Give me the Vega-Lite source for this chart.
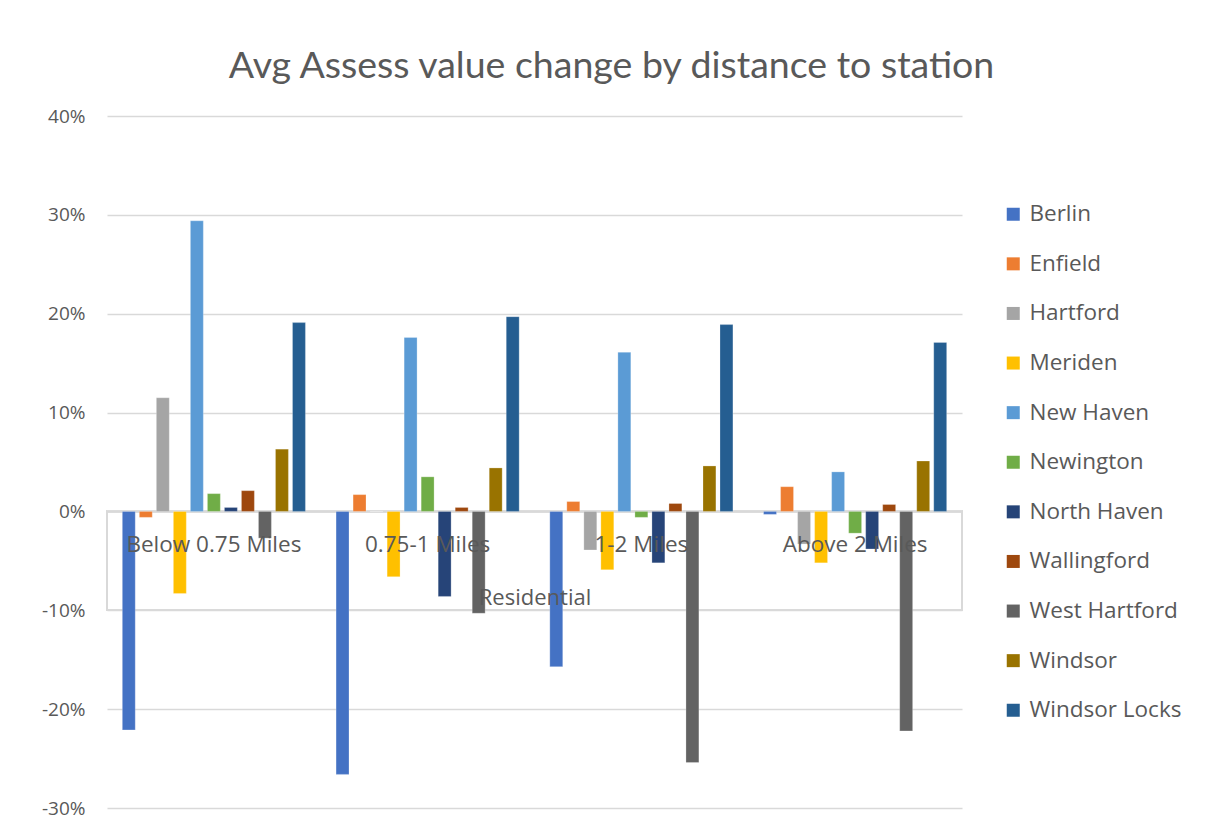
{
  "$schema": "https://vega.github.io/schema/vega-lite/v6.json",
  "autosize": "none",
  "width": 855,
  "height": 692,
  "padding": {"left": 107, "top": 116, "right": 243, "bottom": 27},
  "background": "white",
  "config": {
    "view": {"stroke": null},
    "font": "Open Sans",
    "axisY": {"grid": true, "gridColor": "#d9d9d9", "gridWidth": 1.5}
  },
  "title": {
    "text": "Avg Assess value change by distance to station",
    "font": "Lato",
    "fontSize": 37.5,
    "fontWeight": "normal",
    "color": "#595959",
    "anchor": "middle",
    "dx": 77,
    "offset": 22
  },
  "data": {
    "values": [
      {"distance": "Below 0.75 Miles", "town": "Berlin", "change": -0.221},
      {"distance": "Below 0.75 Miles", "town": "Enfield", "change": -0.006},
      {"distance": "Below 0.75 Miles", "town": "Hartford", "change": 0.115},
      {"distance": "Below 0.75 Miles", "town": "Meriden", "change": -0.083},
      {"distance": "Below 0.75 Miles", "town": "New Haven", "change": 0.294},
      {"distance": "Below 0.75 Miles", "town": "Newington", "change": 0.018},
      {"distance": "Below 0.75 Miles", "town": "North Haven", "change": 0.004},
      {"distance": "Below 0.75 Miles", "town": "Wallingford", "change": 0.021},
      {"distance": "Below 0.75 Miles", "town": "West Hartford", "change": -0.027},
      {"distance": "Below 0.75 Miles", "town": "Windsor", "change": 0.063},
      {"distance": "Below 0.75 Miles", "town": "Windsor Locks", "change": 0.191},
      {"distance": "0.75-1 Miles", "town": "Berlin", "change": -0.266},
      {"distance": "0.75-1 Miles", "town": "Enfield", "change": 0.017},
      {"distance": "0.75-1 Miles", "town": "Hartford", "change": 0.0},
      {"distance": "0.75-1 Miles", "town": "Meriden", "change": -0.066},
      {"distance": "0.75-1 Miles", "town": "New Haven", "change": 0.176},
      {"distance": "0.75-1 Miles", "town": "Newington", "change": 0.035},
      {"distance": "0.75-1 Miles", "town": "North Haven", "change": -0.086},
      {"distance": "0.75-1 Miles", "town": "Wallingford", "change": 0.004},
      {"distance": "0.75-1 Miles", "town": "West Hartford", "change": -0.103},
      {"distance": "0.75-1 Miles", "town": "Windsor", "change": 0.044},
      {"distance": "0.75-1 Miles", "town": "Windsor Locks", "change": 0.197},
      {"distance": "1-2 Miles", "town": "Berlin", "change": -0.157},
      {"distance": "1-2 Miles", "town": "Enfield", "change": 0.010},
      {"distance": "1-2 Miles", "town": "Hartford", "change": -0.039},
      {"distance": "1-2 Miles", "town": "Meriden", "change": -0.059},
      {"distance": "1-2 Miles", "town": "New Haven", "change": 0.161},
      {"distance": "1-2 Miles", "town": "Newington", "change": -0.006},
      {"distance": "1-2 Miles", "town": "North Haven", "change": -0.052},
      {"distance": "1-2 Miles", "town": "Wallingford", "change": 0.008},
      {"distance": "1-2 Miles", "town": "West Hartford", "change": -0.254},
      {"distance": "1-2 Miles", "town": "Windsor", "change": 0.046},
      {"distance": "1-2 Miles", "town": "Windsor Locks", "change": 0.189},
      {"distance": "Above 2 Miles", "town": "Berlin", "change": -0.003},
      {"distance": "Above 2 Miles", "town": "Enfield", "change": 0.025},
      {"distance": "Above 2 Miles", "town": "Hartford", "change": -0.033},
      {"distance": "Above 2 Miles", "town": "Meriden", "change": -0.052},
      {"distance": "Above 2 Miles", "town": "New Haven", "change": 0.040},
      {"distance": "Above 2 Miles", "town": "Newington", "change": -0.022},
      {"distance": "Above 2 Miles", "town": "North Haven", "change": -0.038},
      {"distance": "Above 2 Miles", "town": "Wallingford", "change": 0.007},
      {"distance": "Above 2 Miles", "town": "West Hartford", "change": -0.222},
      {"distance": "Above 2 Miles", "town": "Windsor", "change": 0.051},
      {"distance": "Above 2 Miles", "town": "Windsor Locks", "change": 0.171}
    ]
  },
  "layer": [
    {
      "mark": {"type": "rect", "fill": null, "stroke": "#d9d9d9", "strokeWidth": 1.5},
      "encoding": {
        "x": {"value": 0},
        "x2": {"value": {"expr": "width"}},
        "y": {
          "datum": 0,
          "type": "quantitative",
          "scale": {"domain": [-0.3, 0.4], "nice": false, "zero": false},
          "axis": {
            "values": [-0.3, -0.2, -0.1, 0, 0.1, 0.2, 0.3, 0.4],
            "format": ".0%",
            "labelExpr": "replace(datum.label, '\u2212', '-')",
            "title": null,
            "domain": false,
            "ticks": false,
            "grid": true,
            "gridColor": "#d9d9d9",
            "gridWidth": 1.5,
            "labelPadding": 22,
            "labelFont": "Open Sans",
            "labelFontSize": 19,
            "labelColor": "#595959",
            "zindex": 0
          }
        },
        "y2": {"datum": -0.1}
      }
    },
    {
      "mark": {"type": "bar", "stroke": "white", "strokeWidth": 0.5, "strokeOpacity": 0.5},
      "encoding": {
        "x": {
          "field": "distance",
          "type": "nominal",
          "sort": ["Below 0.75 Miles", "0.75-1 Miles", "1-2 Miles", "Above 2 Miles"],
          "scale": {"paddingInner": 0, "paddingOuter": 0},
          "title": "Residential",
          "axis": {
            "orient": "bottom",
            "offset": -275,
            "labelAngle": 0,
            "domain": false,
            "ticks": false,
            "grid": false,
            "labelPadding": 0,
            "labelFont": "Open Sans",
            "labelFontSize": 22.5,
            "labelColor": "#595959",
            "titleFont": "Open Sans",
            "titleFontSize": 22,
            "titleFontWeight": "normal",
            "titleColor": "#595959",
            "titlePadding": 32,
            "zindex": 2
          }
        },
        "xOffset": {
          "field": "town",
          "type": "nominal",
          "scale": {"paddingInner": 0.24, "paddingOuter": 0.9}
        },
        "y": {
          "field": "change",
          "type": "quantitative"
        },
        "color": {
          "field": "town",
          "type": "nominal",
          "title": null,
          "scale": {
            "domain": ["Berlin", "Enfield", "Hartford", "Meriden", "New Haven", "Newington", "North Haven", "Wallingford", "West Hartford", "Windsor", "Windsor Locks"],
            "range": ["#4472C4", "#ED7D31", "#A5A5A5", "#FFC000", "#5B9BD5", "#70AD47", "#264478", "#9E480E", "#636363", "#997300", "#255E91"]
          },
          "legend": {
            "orient": "none",
            "legendX": 895,
            "legendY": 87,
            "symbolType": "square",
            "symbolSize": 169,
            "symbolStrokeWidth": 0,
            "labelFont": "Open Sans",
            "labelFontSize": 22.5,
            "labelColor": "#595959",
            "labelOffset": 5,
            "rowPadding": 26.6,
            "padding": 0
          }
        }
      }
    }
  ]
}
